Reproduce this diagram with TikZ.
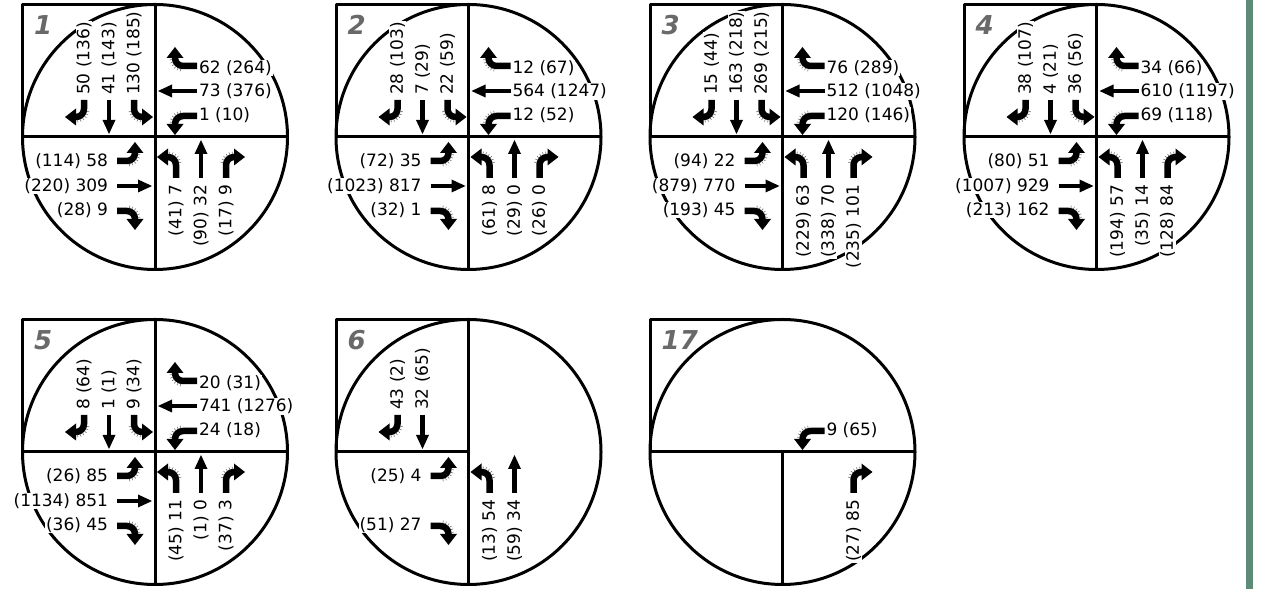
\documentclass[tikz,border=0pt]{standalone}
\usepackage{fontspec}
\setmainfont{DejaVu Sans}
\definecolor{barcol}{RGB}{94,138,120}
\definecolor{tagcol}{RGB}{105,105,105}
\tikzset{
  frame/.style={line width=3bp, draw=black},
  num/.style={font=\fontsize{17bp}{20bp}\selectfont, fill=white, inner sep=0.8bp},
  tag/.style={font=\fontsize{26bp}{28bp}\selectfont\bfseries\itshape, text=tagcol, anchor=west, inner sep=0pt},
  turnstem/.style={line width=6.5bp},
  thrustem/.style={line width=4.5bp},
  hair/.style={line width=0.6bp, draw=black!55}
}
% arrows in the frame of the approach from the south (centre at origin)
\newcommand\ArrL[1]{%
  \draw[turnstem] (21,-#1) -- (21,-28) arc[start angle=0,end angle=90,radius=8] -- (12,-20);
  \fill (13,-28.5) -- (2,-20) -- (13,-11.5) -- cycle;
  \foreach \a in {12,26,...,82} {\draw[hair] (13,-28) ++(\a:11) -- ++(\a:2.6);}}
\newcommand\ArrR[1]{%
  \draw[turnstem] (71,-#1) -- (71,-28) arc[start angle=180,end angle=90,radius=8] -- (80,-20);
  \fill (79,-28.5) -- (90,-20) -- (79,-11.5) -- cycle;
  \foreach \a in {98,112,...,168} {\draw[hair] (79,-28) ++(\a:11) -- ++(\a:2.6);}}
\newcommand\ArrT[1]{%
  \draw[thrustem] (46,-#1) -- (46,-16);
  \fill (39.5,-17) -- (46,-3) -- (52.5,-17) -- cycle;}
% northbound (from south)
\newcommand\nbL[1]{\node[num,rotate=90,anchor=east] at (21,-47) {#1}; \ArrL{41}}
\newcommand\nbT[1]{\node[num,rotate=90,anchor=east] at (46,-47) {#1}; \ArrT{41}}
\newcommand\nbR[1]{\node[num,rotate=90,anchor=east] at (71,-47) {#1}; \ArrR{41}}
% southbound (from north)
\newcommand\sbL[1]{\node[num,rotate=90,anchor=west] at (-21,41) {#1}; \begin{scope}[rotate=180]\ArrL{37}\end{scope}}
\newcommand\sbT[1]{\node[num,rotate=90,anchor=west] at (-46,41) {#1}; \begin{scope}[rotate=180]\ArrT{37}\end{scope}}
\newcommand\sbR[1]{\node[num,rotate=90,anchor=west] at (-71,41) {#1}; \begin{scope}[rotate=180]\ArrR{37}\end{scope}}
% westbound (from east)
\newcommand\wbL[1]{\node[num,anchor=west] at (43,22) {#1}; \begin{scope}[rotate=90]\ArrL{42}\end{scope}}
\newcommand\wbT[1]{\node[num,anchor=west] at (43,45.5) {#1}; \begin{scope}[rotate=90]\ArrT{42}\end{scope}}
\newcommand\wbR[1]{\node[num,anchor=west] at (43,69) {#1}; \begin{scope}[rotate=90]\ArrR{42}\end{scope}}
% eastbound (from west)
\newcommand\ebL[1]{\node[num,anchor=east] at (-46,-24.5) {#1}; \begin{scope}[rotate=-90,shift={(3,0)}]\ArrL{38}\end{scope}}
\newcommand\ebT[1]{\node[num,anchor=east] at (-46,-49) {#1}; \begin{scope}[rotate=-90,shift={(3,0)}]\ArrT{38}\end{scope}}
\newcommand\ebR[1]{\node[num,anchor=east] at (-46,-73) {#1}; \begin{scope}[rotate=-90,shift={(3,0)}]\ArrR{38}\end{scope}}
% frames
\newcommand\Base[1]{%
  \draw[frame] (-132.5,0) -- (-132.5,132.5) -- (0,132.5);
  \draw[frame] (0,0) circle[radius=132.5];
  \node[tag] at (-121,112) {#1};}
\newcommand\Hfull{\draw[frame] (-132.5,0) -- (132.5,0);}
\newcommand\Vfull{\draw[frame] (0,132.5) -- (0,-132.5);}

\begin{document}
\begin{tikzpicture}[x=1bp,y=1bp,line join=round]
\useasboundingbox (0,0) rectangle (1265,589);
\fill[barcol] (1246,0) rectangle (1253,589);

% ---- 1 ----
\begin{scope}[shift={(155,452)}]
  \Base{1}\Hfull\Vfull
  \sbR{50 (136)}\sbT{41 (143)}\sbL{130 (185)}
  \wbR{62 (264)}\wbT{73 (376)}\wbL{1 (10)}
  \ebL{(114) 58}\ebT{(220) 309}\ebR{(28) 9}
  \nbL{(41) 7}\nbT{(90) 32}\nbR{(17) 9}
\end{scope}

% ---- 2 ----
\begin{scope}[shift={(468.5,452)}]
  \Base{2}\Hfull\Vfull
  \sbR{28 (103)}\sbT{7 (29)}\sbL{22 (59)}
  \wbR{12 (67)}\wbT{564 (1247)}\wbL{12 (52)}
  \ebL{(72) 35}\ebT{(1023) 817}\ebR{(32) 1}
  \nbL{(61) 8}\nbT{(29) 0}\nbR{(26) 0}
\end{scope}

% ---- 3 ----
\begin{scope}[shift={(782.5,452)}]
  \Base{3}\Hfull\Vfull
  \sbR{15 (44)}\sbT{163 (218)}\sbL{269 (215)}
  \wbR{76 (289)}\wbT{512 (1048)}\wbL{120 (146)}
  \ebL{(94) 22}\ebT{(879) 770}\ebR{(193) 45}
  \nbL{(229) 63}\nbT{(338) 70}\nbR{(235) 101}
\end{scope}

% ---- 4 ----
\begin{scope}[shift={(1096.5,452)}]
  \Base{4}\Hfull\Vfull
  \sbR{38 (107)}\sbT{4 (21)}\sbL{36 (56)}
  \wbR{34 (66)}\wbT{610 (1197)}\wbL{69 (118)}
  \ebL{(80) 51}\ebT{(1007) 929}\ebR{(213) 162}
  \nbL{(194) 57}\nbT{(35) 14}\nbR{(128) 84}
\end{scope}

% ---- 5 ----
\begin{scope}[shift={(155,137)}]
  \Base{5}\Hfull\Vfull
  \sbR{8 (64)}\sbT{1 (1)}\sbL{9 (34)}
  \wbR{20 (31)}\wbT{741 (1276)}\wbL{24 (18)}
  \ebL{(26) 85}\ebT{(1134) 851}\ebR{(36) 45}
  \nbL{(45) 11}\nbT{(1) 0}\nbR{(37) 3}
\end{scope}

% ---- 6 ----
\begin{scope}[shift={(468.5,137)}]
  \Base{6}\draw[frame] (-132.5,0) -- (0,0);\Vfull
  \sbR{43 (2)}\sbT{32 (65)}
  \ebL{(25) 4}\ebR{(51) 27}
  \nbL{(13) 54}\nbT{(59) 34}
\end{scope}

% ---- 17 ----
\begin{scope}[shift={(782.5,137)}]
  \Base{17}\Hfull\draw[frame] (0,0) -- (0,-132.5);
  \wbL{9 (65)}
  \nbR{(27) 85}
\end{scope}
\end{tikzpicture}
\end{document}
